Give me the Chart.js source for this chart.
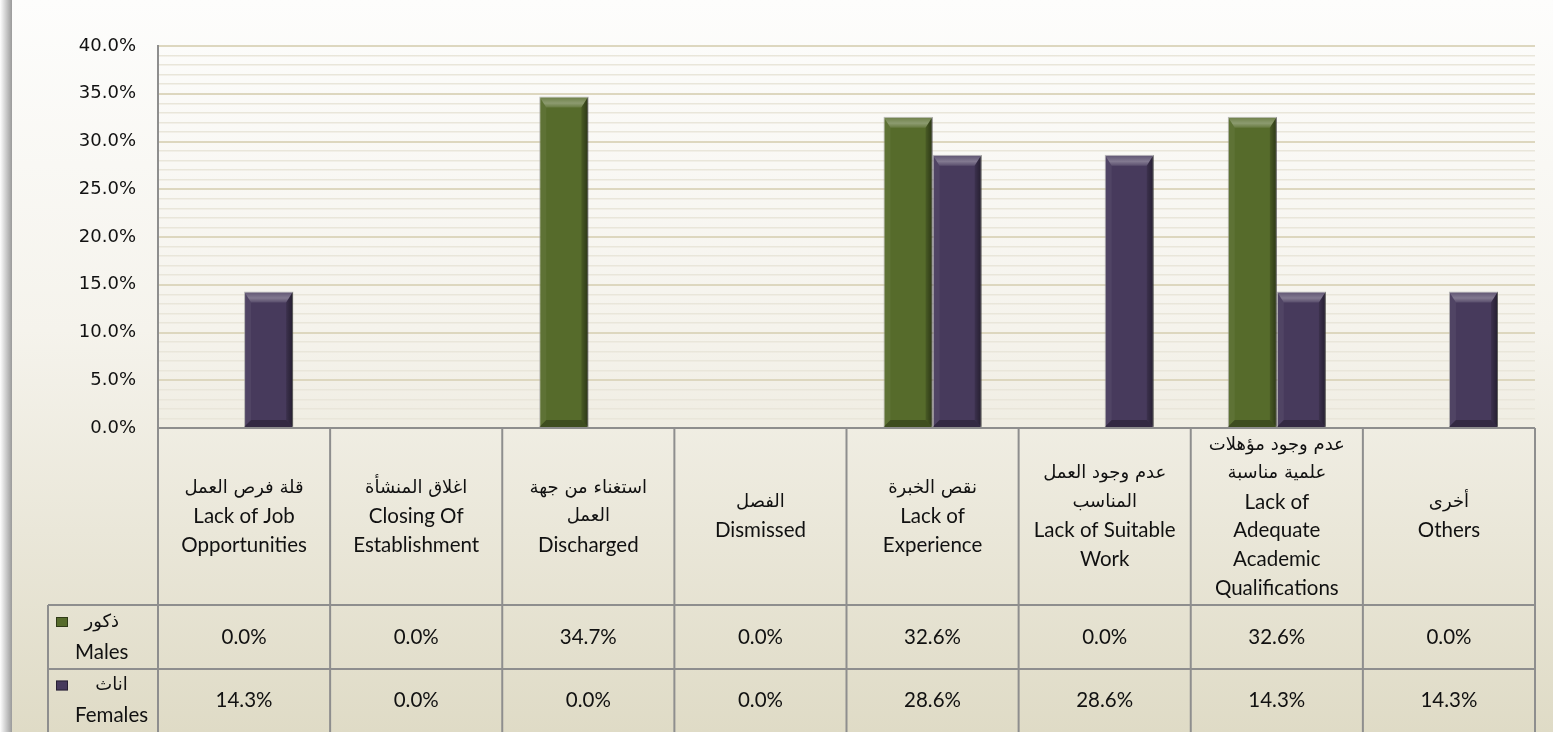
<!DOCTYPE html>
<html>
<head>
<meta charset="utf-8">
<script src="https://cdn.jsdelivr.net/npm/chart.js@4.4.1/dist/chart.umd.min.js"></script>
<style>
  html, body { margin: 0; padding: 0; background: #fff; }
  #wrap { width: 1553px; height: 732px; position: relative; }
</style>
</head>
<body>
<div id="wrap"><canvas id="chart"></canvas></div>
<script>
// categories: arabic + english lines as shown in the table header
const categorias = [
    ['قلة فرص العمل', 'Lack of Job', 'Opportunities'],
    ['اغلاق المنشأة', 'Closing Of', 'Establishment'],
    ['استغناء من جهة', 'العمل', 'Discharged'],
    ['الفصل', 'Dismissed'],
    ['نقص الخبرة', 'Lack of', 'Experience'],
    ['عدم وجود العمل', 'المناسب', 'Lack of Suitable', 'Work'],
    ['عدم وجود مؤهلات', 'علمية مناسبة', 'Lack of', 'Adequate', 'Academic', 'Qualifications'],
    ['أخرى', 'Others']
];
const males = [0.0, 0.0, 34.7, 0.0, 32.6, 0.0, 32.6, 0.0];
const females = [14.3, 0.0, 0.0, 0.0, 28.6, 28.6, 14.3, 14.3];
const seriesNames = [['ذكور', 'Males'], ['اناث', 'Females']];
const yTicks = [0, 5, 10, 15, 20, 25, 30, 35, 40];

const VERDE = '#566b2b';
const ROXO = '#473a5c';
const FONTE_LAT = "20.5px Lato, 'DejaVu Sans', sans-serif";
const FONTE_AR = "18px 'DejaVu Sans', sans-serif";
const ehArabe = s => /[\u0600-\u06FF]/.test(s);

// fundo com degradê + sombra na borda esquerda
const fundoPlugin = {
    id: 'fundo',
    beforeDraw(chart) {
        const { ctx, width, height } = chart;
        ctx.save();
        const g = ctx.createLinearGradient(0, 0, 0, height);
        g.addColorStop(0, '#fdfdfc');
        g.addColorStop(0.45, '#f5f3ec');
        g.addColorStop(1, '#dfdbc6');
        ctx.fillStyle = g;
        ctx.fillRect(12, 0, width - 12, height);
        const s = ctx.createLinearGradient(0, 0, 12, 0);
        s.addColorStop(0, '#ffffff');
        s.addColorStop(1, '#9a9a9a');
        ctx.fillStyle = s;
        ctx.fillRect(0, 0, 12, height);
        ctx.restore();
    }
};

// efeito de bisel nas barras
const biselPlugin = {
    id: 'bisel',
    afterDatasetsDraw(chart) {
        const ctx = chart.ctx;
        chart.data.datasets.forEach((ds, di) => {
            chart.getDatasetMeta(di).data.forEach(bar => {
                const h = bar.base - bar.y;
                if (h < 2) return;
                const l = bar.x - bar.width / 2, r = bar.x + bar.width / 2;
                const t = bar.y, b = bar.base, k = 7, kt = 11;
                ctx.save();
                const poly = (pts, cor) => {
                    ctx.beginPath();
                    ctx.moveTo(pts[0][0], pts[0][1]);
                    pts.slice(1).forEach(p => ctx.lineTo(p[0], p[1]));
                    ctx.closePath();
                    ctx.fillStyle = cor;
                    ctx.fill();
                };
                const gt = ctx.createLinearGradient(0, t, 0, t + kt);
                gt.addColorStop(0, 'rgba(255,255,255,0.12)');
                gt.addColorStop(0.6, 'rgba(255,255,255,0.32)');
                gt.addColorStop(1, 'rgba(255,255,255,0.1)');
                poly([[l, t], [r, t], [r - k, t + kt], [l + k, t + kt]], gt);
                poly([[l, t], [l + k, t + kt], [l + k, b - k], [l, b]], 'rgba(255,255,255,0.05)');
                const gr = ctx.createLinearGradient(r - k, 0, r, 0);
                gr.addColorStop(0, 'rgba(0,0,0,0.15)');
                gr.addColorStop(1, 'rgba(0,0,0,0.5)');
                poly([[r, t], [r, b], [r - k, b - k], [r - k, t + kt]], gr);
                poly([[l, b], [r, b], [r - k, b - k], [l + k, b - k]], 'rgba(0,0,0,0.28)');
                ctx.restore();
            });
        });
    }
};

// tabela de dados abaixo do gráfico
const tabelaPlugin = {
    id: 'tabela',
    afterDraw(chart) {
        const { ctx, chartArea } = chart;
        const x = chart.scales.x;
        const n = categorias.length;
        const larg = chartArea.width / n;
        const topo = chartArea.bottom;
        const cab = topo + 177;
        const l1 = cab + 64;
        const fim = chart.height;
        const esq = 48;

        ctx.save();
        ctx.strokeStyle = '#8e8e8e';
        ctx.lineWidth = 2;
        ctx.beginPath();
        ctx.moveTo(chartArea.left, topo); ctx.lineTo(chartArea.right, topo);
        ctx.moveTo(esq, cab); ctx.lineTo(chartArea.right, cab);
        ctx.moveTo(esq, l1); ctx.lineTo(chartArea.right, l1);
        for (let i = 0; i <= n; i++) {
            const xx = chartArea.left + i * larg;
            ctx.moveTo(xx, topo); ctx.lineTo(xx, fim);
        }
        ctx.moveTo(esq, cab); ctx.lineTo(esq, fim);
        ctx.stroke();

        ctx.fillStyle = '#111';
        ctx.textAlign = 'center';
        ctx.textBaseline = 'middle';
        const escreve = (s, px, py) => {
            ctx.font = ehArabe(s) ? FONTE_AR : FONTE_LAT;
            ctx.fillText(s, px, py);
        };
        const lh = 28.6;
        categorias.forEach((linhas, i) => {
            const cx = x.getPixelForValue(i);
            const meio = (topo + cab) / 2;
            linhas.forEach((s, j) => {
                escreve(s, cx, meio + (j - (linhas.length - 1) / 2) * lh);
            });
            escreve(males[i].toFixed(1) + '%', cx, (cab + l1) / 2);
            escreve(females[i].toFixed(1) + '%', cx, (l1 + fim) / 2);
        });

        // legenda nas linhas
        const linhasY = [[cab, l1], [l1, fim]];
        [VERDE, ROXO].forEach((cor, s) => {
            const [a, b] = linhasY[s];
            const meio = (a + b) / 2;
            ctx.fillStyle = cor;
            ctx.fillRect(56, meio - 20, 12, 10);
            ctx.strokeStyle = 'rgba(0,0,0,0.45)';
            ctx.lineWidth = 1;
            ctx.strokeRect(56.5, meio - 19.5, 11, 9);
            ctx.fillStyle = '#111';
            const nomes = seriesNames[s];
            const w = Math.max(...nomes.map(t => {
                ctx.font = ehArabe(t) ? FONTE_AR : FONTE_LAT;
                return ctx.measureText(t).width;
            }));
            const cx = 75 + w / 2;
            escreve(nomes[0], cx, meio - 15);
            escreve(nomes[1], cx, meio + 15);
        });
        ctx.restore();
    }
};

new Chart(document.getElementById('chart'), {
    type: 'bar',
    data: {
        labels: categorias.map(c => c[c.length - 1]),
        datasets: [
            { label: 'Males', data: males, backgroundColor: VERDE, borderColor: 'rgba(150,150,150,0.7)', borderWidth: 1, categoryPercentage: 0.57, barPercentage: 1 },
            { label: 'Females', data: females, backgroundColor: ROXO, borderColor: 'rgba(150,150,150,0.7)', borderWidth: 1, categoryPercentage: 0.57, barPercentage: 1 }
        ]
    },
    options: {
        responsive: true,
        maintainAspectRatio: false,
        animation: false,
        layout: { padding: { top: 46, right: 18, bottom: 304, left: 12 } },
        plugins: { legend: { display: false }, tooltip: { enabled: false } },
        scales: {
            x: { display: false },
            y: {
                min: 0, max: 40,
                afterFit: s => { s.width = 146; },
                border: { color: '#8e8e8e', width: 2 },
                grid: {
                    drawTicks: false,
                    color: c => (yTicks.includes(c.tick.value) ? '#ddd7bf' : '#e9e6da'),
                    lineWidth: c => (yTicks.includes(c.tick.value) ? 2 : 1.5)
                },
                ticks: {
                    stepSize: 1,
                    autoSkip: false,
                    padding: 22,
                    color: '#111',
                    font: { family: "'DejaVu Sans'", size: 18 },
                    callback: v => (yTicks.includes(v) ? v.toFixed(1) + '%' : '')
                }
            }
        }
    },
    plugins: [fundoPlugin, biselPlugin, tabelaPlugin]
});
</script>
</body>
</html>
